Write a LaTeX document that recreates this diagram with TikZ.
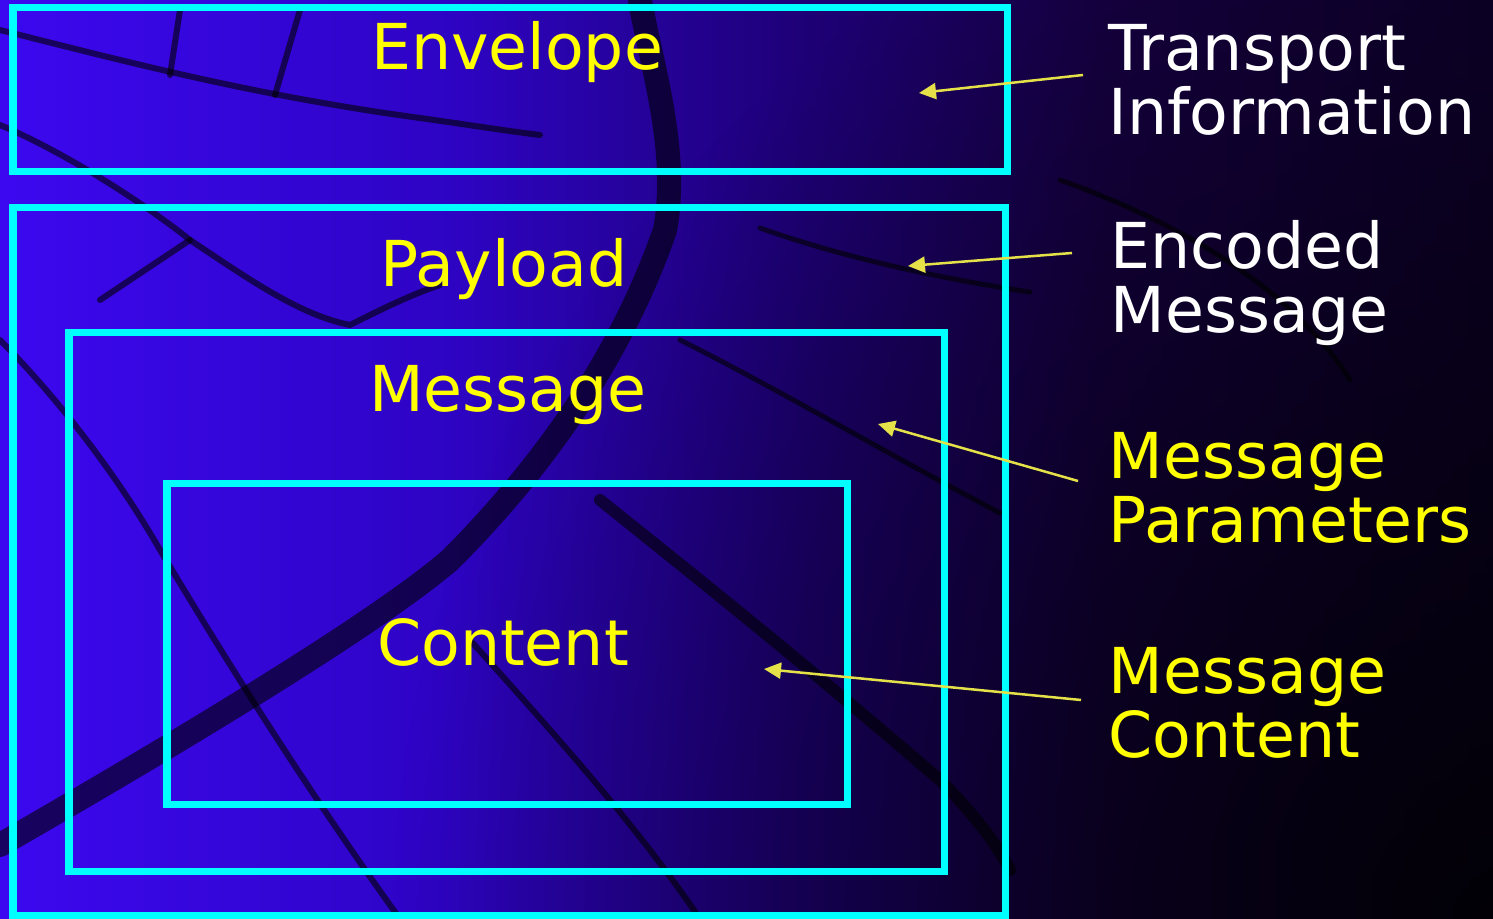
\documentclass[tikz,border=0pt]{standalone}
\usepackage{fontspec}
\setmainfont{DejaVu Sans}
\usetikzlibrary{positioning,calc,arrows.meta,fadings}

\definecolor{boxcyan}{RGB}{0,255,255}
\definecolor{labyellow}{RGB}{255,255,0}
\definecolor{ptryellow}{RGB}{228,226,72}
\definecolor{bgA}{RGB}{60,8,240}
\definecolor{bgB}{RGB}{46,4,196}
\definecolor{bgC}{RGB}{30,0,118}
\definecolor{bgD}{RGB}{22,0,66}
\definecolor{bgE}{RGB}{14,0,42}
\pgfdeclarehorizontalshading{crackbg}{100bp}{color(0bp)=(bgA); color(25bp)=(bgA); color(40bp)=(bgB); color(52bp)=(bgC); color(62bp)=(bgD); color(75bp)=(bgE); color(100bp)=(bgE)}
\tikzfading[name=cornerdark, inner color=transparent!15, outer color=transparent!100]

\tikzset{
    frame/.style={draw=boxcyan,line width=0.07cm},
    layer/.style={text=labyellow,font=\fontsize{18}{18.2}\selectfont,inner sep=0pt,anchor=base},
    note/.style={font=\fontsize{18}{18.2}\selectfont,inner sep=0pt,anchor=base west,align=left},
    ptr/.style={draw=ptryellow,line width=0.025cm,-{Triangle[length=0.17cm,width=0.16cm]}},
    crack/.style={black,opacity=0.6,line cap=round,line join=round}
}

\begin{document}
\begin{tikzpicture}[x=0.01cm,y=-0.01cm]
        \useasboundingbox (0,0) rectangle (1493,919);
        \shade[shading=crackbg] (0,0) rectangle (1493,919);
        \fill[black,path fading=cornerdark] (1493,919) circle (1100);
        % cracks in the backdrop
        \draw[crack,line width=0.24cm] (0,845) .. controls (200,730) and (380,620) .. (450,560) .. controls (540,470) and (620,360) .. (665,230) .. controls (680,150) and (650,60) .. (640,0);
        \draw[crack,line width=0.06cm] (0,30) .. controls (120,60) and (250,95) .. (420,118) .. controls (470,125) and (500,130) .. (540,135);
        \draw[crack,line width=0.06cm] (0,125) .. controls (60,150) and (140,200) .. (190,240) .. controls (250,280) and (300,315) .. (350,325) .. controls (380,310) and (410,295) .. (440,285);
        \draw[crack,line width=0.06cm] (0,340) .. controls (60,400) and (120,480) .. (160,550) .. controls (220,650) and (300,780) .. (400,919);
        \draw[crack,line width=0.06cm] (180,10) -- (170,75) (300,10) -- (275,95) (100,300) -- (190,240);
        \draw[crack,line width=0.12cm] (600,500) .. controls (700,580) and (800,660) .. (940,780) .. controls (980,820) and (1000,850) .. (1010,870);
        \draw[crack,line width=0.06cm] (470,640) .. controls (560,740) and (640,830) .. (700,919);
        \draw[crack,line width=0.05cm] (680,340) .. controls (780,390) and (880,450) .. (1000,513);
        \draw[crack,line width=0.05cm] (760,228) .. controls (850,260) and (950,280) .. (1030,292);
        \draw[crack,line width=0.05cm] (1060,180) .. controls (1200,230) and (1300,300) .. (1350,380);

        % nested layers
        \draw[frame] (13,8) rectangle (1007,172);
        \draw[frame] (13,208) rectangle (1005,916);
        \draw[frame] (69,333) rectangle (944,872);
        \draw[frame] (167,484) rectangle (847,805);

        \node[layer] (env) at (517,70) {Envelope};
        \node[layer] (pay) at (504,287) {Payload};
        \node[layer] (msg) at (508,412) {Message};
        \node[layer] (cnt) at (503,666) {Content};

        \node[note,text=white] (trans) at (1108,135) {Transport\\Information};
        \node[note,text=white] (enc) at (1110,333) {Encoded\\Message};
        \node[note,text=labyellow] (par) at (1108,543) {Message\\Parameters};
        \node[note,text=labyellow] (mcon) at (1108,758) {Message\\Content};

        \coordinate (trtip) at (919,93);
        \coordinate (enctip) at (908,266);
        \coordinate (partip) at (878,424);
        \coordinate (mcontip) at (764,669);

        \draw[ptr] ($(trans.base west)+(-25,-60)$) -- (trtip);
        \draw[ptr] ($(enc.base west)+(-38,-80)$) -- (enctip);
        \draw[ptr] ($(par.base west)+(-30,-62)$) -- (partip);
        \draw[ptr] ($(mcon.base west)+(-27,-58)$) -- (mcontip);
    \end{tikzpicture}
\end{document}
